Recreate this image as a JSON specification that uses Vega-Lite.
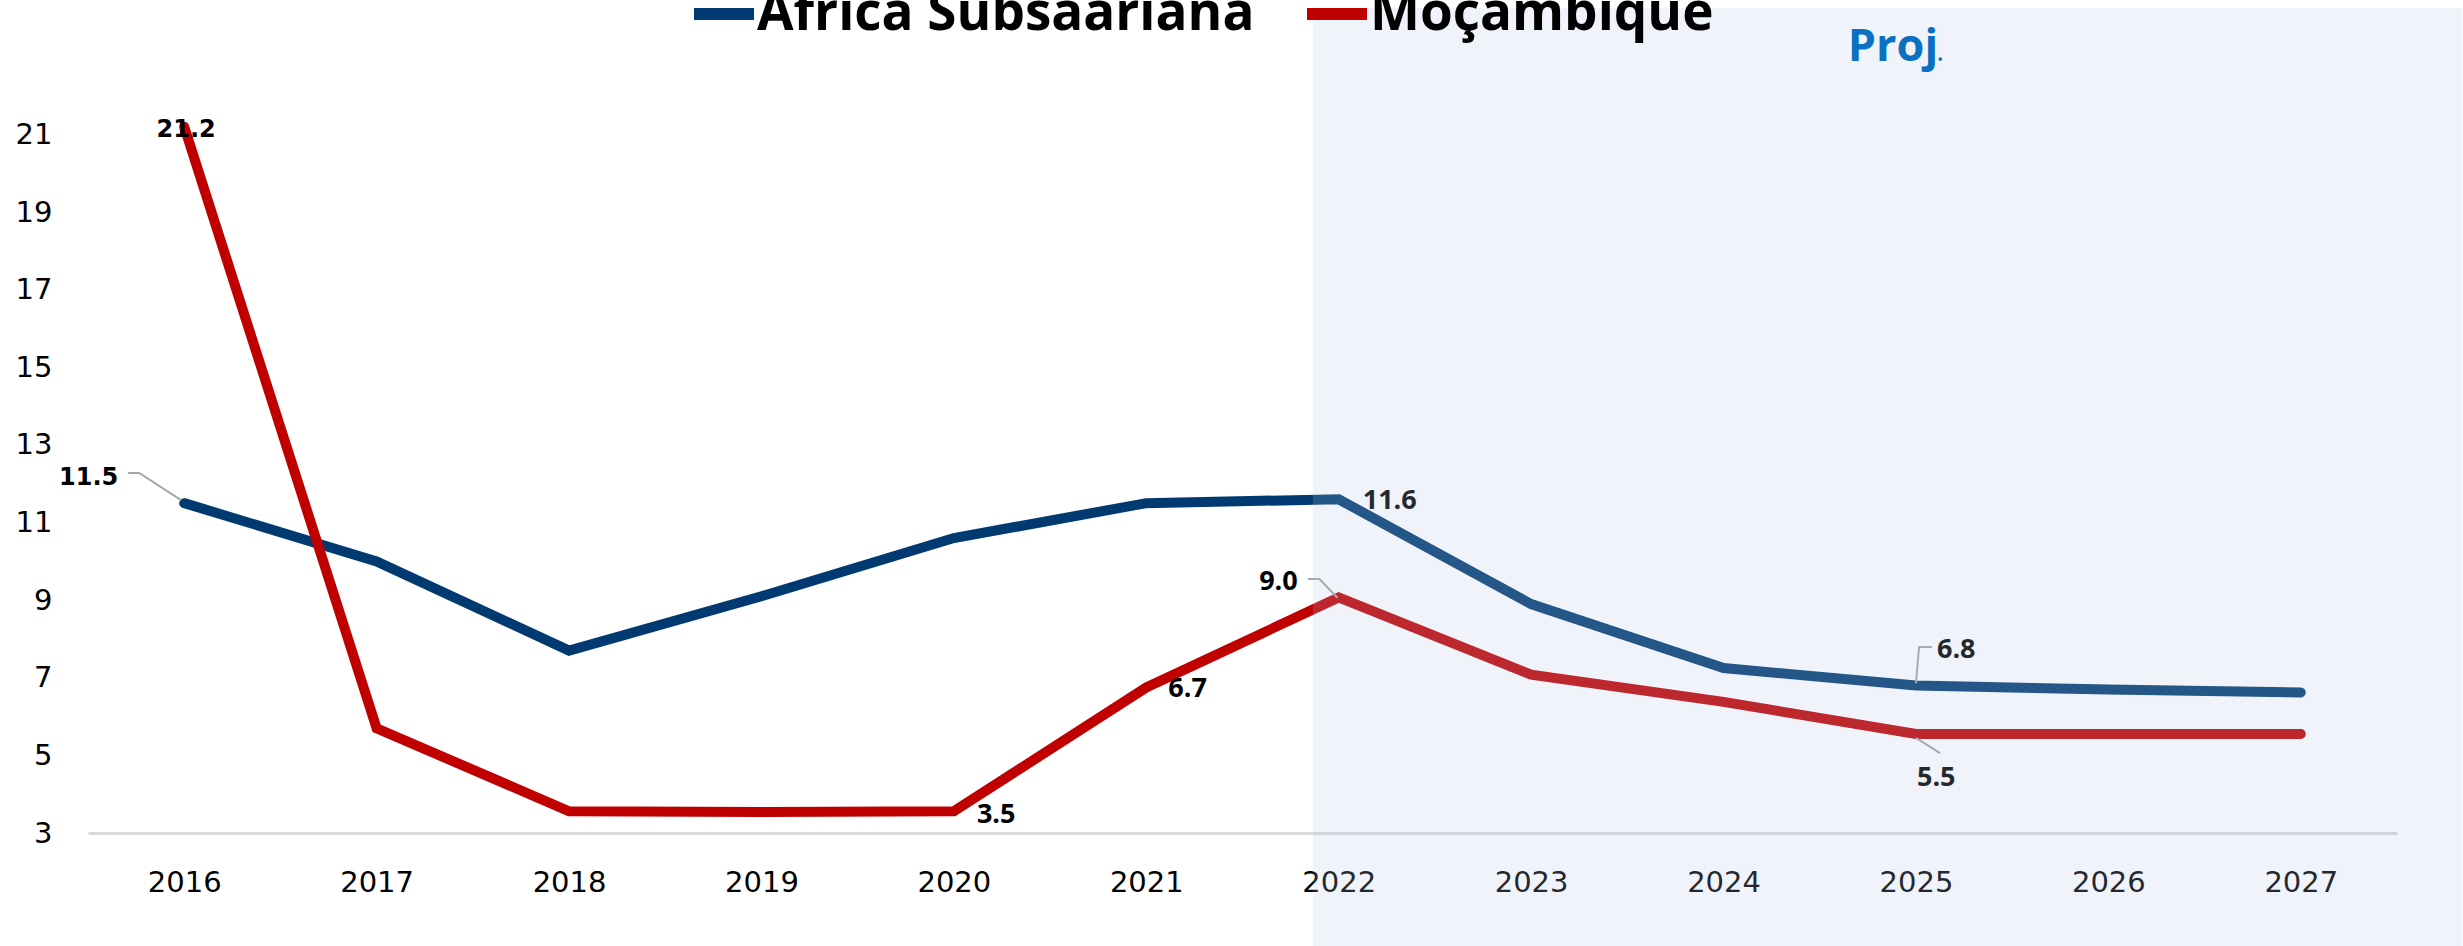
{
  "$schema": "https://vega.github.io/schema/vega-lite/v6.json",
  "width": 2309,
  "height": 825,
  "autosize": {"type": "none"},
  "padding": {"left": 88, "top": 8, "right": 66, "bottom": 113},
  "background": "white",
  "config": {"view": {"stroke": null}, "font": "Open Sans"},
  "datasets": {
    "series": [
      {"series": "Africa Subsaariana", "year": 2016, "value": 11.5},
      {"series": "Africa Subsaariana", "year": 2017, "value": 10.0},
      {"series": "Africa Subsaariana", "year": 2018, "value": 7.7},
      {"series": "Africa Subsaariana", "year": 2019, "value": 9.1},
      {"series": "Africa Subsaariana", "year": 2020, "value": 10.6},
      {"series": "Africa Subsaariana", "year": 2021, "value": 11.5},
      {"series": "Africa Subsaariana", "year": 2022, "value": 11.6},
      {"series": "Africa Subsaariana", "year": 2023, "value": 8.9},
      {"series": "Africa Subsaariana", "year": 2024, "value": 7.25},
      {"series": "Africa Subsaariana", "year": 2025, "value": 6.8},
      {"series": "Africa Subsaariana", "year": 2026, "value": 6.7},
      {"series": "Africa Subsaariana", "year": 2027, "value": 6.62},
      {"series": "Moçambique", "year": 2016, "value": 21.2},
      {"series": "Moçambique", "year": 2017, "value": 5.7},
      {"series": "Moçambique", "year": 2018, "value": 3.56},
      {"series": "Moçambique", "year": 2019, "value": 3.54},
      {"series": "Moçambique", "year": 2020, "value": 3.56},
      {"series": "Moçambique", "year": 2021, "value": 6.75},
      {"series": "Moçambique", "year": 2022, "value": 9.07},
      {"series": "Moçambique", "year": 2023, "value": 7.08},
      {"series": "Moçambique", "year": 2024, "value": 6.38},
      {"series": "Moçambique", "year": 2025, "value": 5.55},
      {"series": "Moçambique", "year": 2026, "value": 5.55},
      {"series": "Moçambique", "year": 2027, "value": 5.55}
    ],
    "labels": [
      {"series": "Moçambique", "year": 2016, "value": 21.2, "label": "21.2"},
      {"series": "Africa Subsaariana", "year": 2016, "value": 11.5, "label": "11.5"},
      {"series": "Africa Subsaariana", "year": 2022, "value": 11.6, "label": "11.6"},
      {"series": "Moçambique", "year": 2022, "value": 9.0, "label": "9.0"},
      {"series": "Moçambique", "year": 2021, "value": 6.7, "label": "6.7"},
      {"series": "Moçambique", "year": 2020, "value": 3.5, "label": "3.5"},
      {"series": "Africa Subsaariana", "year": 2025, "value": 6.8, "label": "6.8"},
      {"series": "Moçambique", "year": 2025, "value": 5.5, "label": "5.5"}
    ],
    "leaders": [
      {"id": "a", "ord": 1, "year": 2015.709, "value": 12.28},
      {"id": "a", "ord": 2, "year": 2015.766, "value": 12.28},
      {"id": "a", "ord": 3, "year": 2015.984, "value": 11.58},
      {"id": "b", "ord": 1, "year": 2021.841, "value": 9.546},
      {"id": "b", "ord": 2, "year": 2021.9, "value": 9.546},
      {"id": "b", "ord": 3, "year": 2021.994, "value": 9.06},
      {"id": "c", "ord": 1, "year": 2025.083, "value": 7.794},
      {"id": "c", "ord": 2, "year": 2025.016, "value": 7.794},
      {"id": "c", "ord": 3, "year": 2025.0, "value": 6.86},
      {"id": "d", "ord": 1, "year": 2025.0, "value": 5.45},
      {"id": "d", "ord": 2, "year": 2025.125, "value": 5.06}
    ]
  },
  "layer": [
    {
      "data": {"name": "series"},
      "mark": {"type": "line", "strokeWidth": 10, "strokeCap": "round", "strokeJoin": "miter"},
      "encoding": {
        "x": {
          "field": "year", "type": "quantitative",
          "scale": {"domain": [2015.5, 2027.5], "nice": false, "zero": false},
          "axis": {
            "values": [2016, 2017, 2018, 2019, 2020, 2021, 2022, 2023, 2024, 2025, 2026, 2027],
            "format": "d", "title": null, "grid": false, "ticks": false,
            "labelFontSize": 29, "labelFont": "DejaVu Sans", "labelColor": "#000000",
            "labelPadding": 35, "domainColor": "#D9D9D9", "domainWidth": 3,
            "labelFlush": false, "labelOverlap": false
          }
        },
        "y": {
          "field": "value", "type": "quantitative",
          "scale": {"domain": [3, 24.26], "nice": false, "zero": false},
          "axis": {
            "values": [3, 5, 7, 9, 11, 13, 15, 17, 19, 21],
            "title": null, "grid": false, "ticks": false, "domain": false,
            "labelFontSize": 29, "labelFont": "DejaVu Sans", "labelColor": "#000000",
            "labelPadding": 36
          }
        },
        "color": {
          "field": "series", "type": "nominal",
          "scale": {"domain": ["Africa Subsaariana", "Moçambique"], "range": ["#003A70", "#C00000"]},
          "legend": {
            "title": null, "orient": "none", "direction": "horizontal",
            "legendX": 600, "legendY": -30,
            "symbolType": "stroke", "symbolStrokeWidth": 12, "symbolSize": 3600,
            "labelFontSize": 53, "labelFont": "Open Sans", "labelFontWeight": "bold",
            "labelColor": "#000000", "labelOffset": -3, "columnPadding": 28,
            "padding": 0, "labelLimit": 0
          }
        }
      }
    },
    {
      "data": {"name": "leaders"},
      "mark": {"type": "line", "stroke": "#A6A6A6", "strokeWidth": 2},
      "encoding": {
        "x": {"field": "year", "type": "quantitative"},
        "y": {"field": "value", "type": "quantitative"},
        "detail": {"field": "id"},
        "order": {"field": "ord"}
      }
    },
    {
      "data": {"name": "labels"},
      "transform": [{"filter": "datum.label === '21.2'"}],
      "mark": {"type": "text", "font": "DejaVu Sans", "fontWeight": "bold", "fontSize": 24, "align": "center", "baseline": "middle", "dx": 2, "dy": 3, "color": "#000000"},
      "encoding": {"x": {"field": "year", "type": "quantitative"}, "y": {"field": "value", "type": "quantitative"}, "text": {"field": "label"}}
    },
    {
      "data": {"name": "labels"},
      "transform": [{"filter": "datum.label === '11.5'"}],
      "mark": {"type": "text", "font": "DejaVu Sans", "fontWeight": "bold", "fontSize": 24, "align": "right", "baseline": "middle", "dx": -66, "dy": -25, "color": "#000000"},
      "encoding": {"x": {"field": "year", "type": "quantitative"}, "y": {"field": "value", "type": "quantitative"}, "text": {"field": "label"}}
    },
    {
      "data": {"name": "labels"},
      "transform": [{"filter": "datum.label === '11.6'"}],
      "mark": {"type": "text", "font": "Open Sans", "fontWeight": "bold", "fontSize": 27, "align": "left", "baseline": "middle", "dx": 24, "dy": 2, "color": "#000000"},
      "encoding": {"x": {"field": "year", "type": "quantitative"}, "y": {"field": "value", "type": "quantitative"}, "text": {"field": "label"}}
    },
    {
      "data": {"name": "labels"},
      "transform": [{"filter": "datum.label === '9.0'"}],
      "mark": {"type": "text", "font": "Open Sans", "fontWeight": "bold", "fontSize": 27, "align": "right", "baseline": "middle", "dx": -41, "dy": -18, "color": "#000000"},
      "encoding": {"x": {"field": "year", "type": "quantitative"}, "y": {"field": "value", "type": "quantitative"}, "text": {"field": "label"}}
    },
    {
      "data": {"name": "labels"},
      "transform": [{"filter": "datum.label === '6.7'"}],
      "mark": {"type": "text", "font": "Open Sans", "fontWeight": "bold", "fontSize": 27, "align": "left", "baseline": "middle", "dx": 22, "dy": 0, "color": "#000000"},
      "encoding": {"x": {"field": "year", "type": "quantitative"}, "y": {"field": "value", "type": "quantitative"}, "text": {"field": "label"}}
    },
    {
      "data": {"name": "labels"},
      "transform": [{"filter": "datum.label === '3.5'"}],
      "mark": {"type": "text", "font": "Open Sans", "fontWeight": "bold", "fontSize": 27, "align": "left", "baseline": "middle", "dx": 23, "dy": 1, "color": "#000000"},
      "encoding": {"x": {"field": "year", "type": "quantitative"}, "y": {"field": "value", "type": "quantitative"}, "text": {"field": "label"}}
    },
    {
      "data": {"name": "labels"},
      "transform": [{"filter": "datum.label === '6.8'"}],
      "mark": {"type": "text", "font": "Open Sans", "fontWeight": "bold", "fontSize": 27, "align": "left", "baseline": "middle", "dx": 21, "dy": -36, "color": "#000000"},
      "encoding": {"x": {"field": "year", "type": "quantitative"}, "y": {"field": "value", "type": "quantitative"}, "text": {"field": "label"}}
    },
    {
      "data": {"name": "labels"},
      "transform": [{"filter": "datum.label === '5.5'"}],
      "mark": {"type": "text", "font": "Open Sans", "fontWeight": "bold", "fontSize": 27, "align": "left", "baseline": "middle", "dx": 1, "dy": 42, "color": "#000000"},
      "encoding": {"x": {"field": "year", "type": "quantitative"}, "y": {"field": "value", "type": "quantitative"}, "text": {"field": "label"}}
    },
    {
      "data": {"values": [{}]},
      "mark": {"type": "rect", "fill": "#B4C8E6", "opacity": 0.2},
      "encoding": {
        "x": {"datum": 2021.866, "type": "quantitative"},
        "x2": {"datum": 2027.84},
        "y": {"datum": 0.088, "type": "quantitative"},
        "y2": {"datum": 24.26}
      }
    },
    {
      "data": {"values": [{}]},
      "mark": {"type": "text", "text": "Proj", "font": "Open Sans", "fontWeight": "bold", "fontSize": 45, "align": "left", "baseline": "alphabetic", "color": "#0A71C1"},
      "encoding": {
        "x": {"datum": 2024.646, "type": "quantitative"},
        "y": {"datum": 22.9, "type": "quantitative"}
      }
    },
    {
      "data": {"values": [{}]},
      "mark": {"type": "text", "text": ".", "font": "Open Sans", "fontWeight": "normal", "fontSize": 30, "align": "left", "baseline": "alphabetic", "color": "#0A71C1"},
      "encoding": {
        "x": {"datum": 2025.105, "type": "quantitative"},
        "y": {"datum": 22.9, "type": "quantitative"}
      }
    }
  ]
}
